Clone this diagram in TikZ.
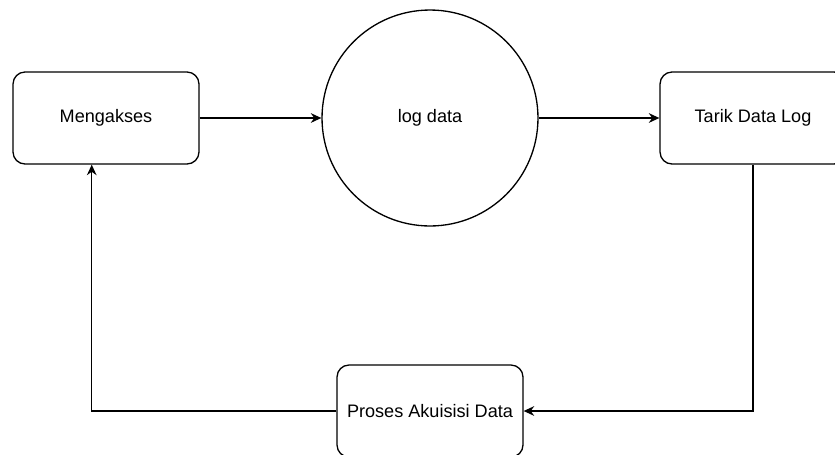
\documentclass[tikz,border=0pt]{standalone}
\usepackage{fontspec}
\setmainfont{Liberation Sans}
\usetikzlibrary{arrows.meta}

\tikzset{
  stepbox/.style={draw, line width=0.75pt, rounded corners=0.24cm,
    minimum width=3.72cm, minimum height=1.84cm, font=\fontsize{10.3}{12}\selectfont},
  store/.style={draw, circle, line width=0.75pt, minimum size=4.32cm,
    inner sep=0pt, font=\fontsize{10.3}{12}\selectfont},
  flow/.style={line width=0.75pt, -{Stealth[length=6pt,width=5.5pt]}}
}

\begin{document}
\begin{tikzpicture}[x=0.02cm,y=-0.02cm]
\clip (0,0) rectangle (835,454);

\node[stepbox] (akses) at (106,118) {Mengakses};
\node[store] (log) at (430,118) {log data};
\node[stepbox] (tarik) at (753,118) {Tarik Data Log};
\node[stepbox] (proses) at (430,411) {Proses Akuisisi Data};

\draw[flow] (akses.east) -- (log.west);
\draw[flow] (log.east) -- (tarik.west);
\draw[flow] (tarik.south) |- (proses.east);
\draw[flow] (proses.west) -| (akses.253);
\end{tikzpicture}
\end{document}
